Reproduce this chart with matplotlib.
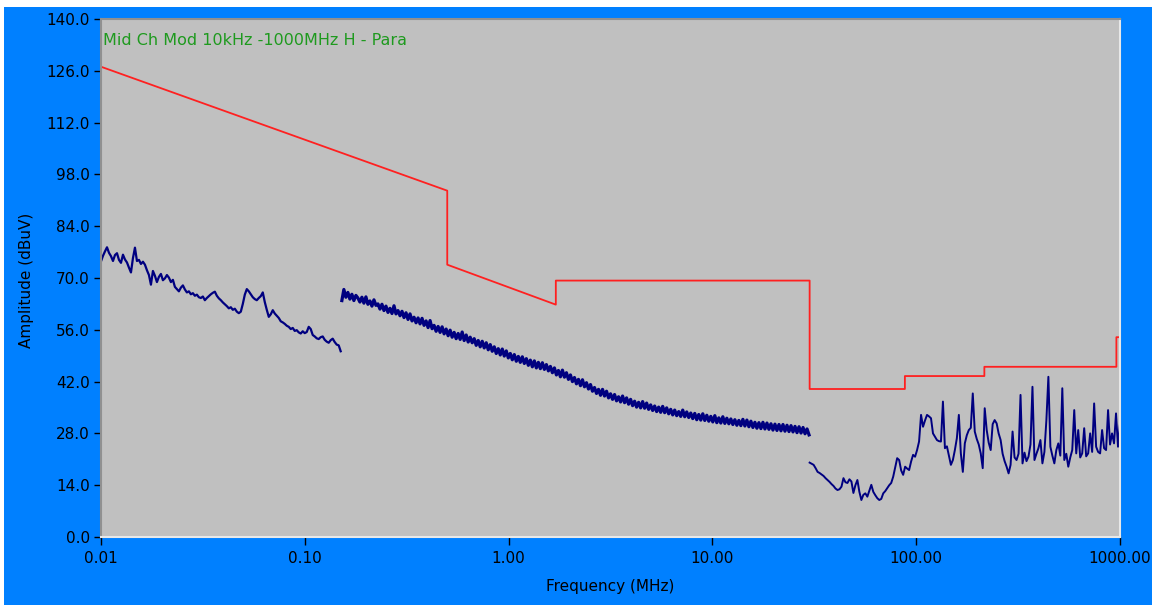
import numpy as np
import matplotlib
matplotlib.use("Agg")
import matplotlib.pyplot as plt
from matplotlib.patches import Rectangle

# limit line (MHz, dBuV)
limit_freq = [0.01, 0.5, 0.5, 1.705, 1.705, 30, 30, 88, 88, 216, 216, 960, 960, 1000]
limit_amp = [127.1, 93.6, 73.6, 62.8, 69.3, 69.3, 40.0, 40.0, 43.5, 43.5, 46.0, 46.0, 54.0, 54.0]

# sweep 1: 10 kHz - 150 kHz
seg1_amp = [
    74.5, 76.0, 77.2, 78.3, 76.8, 75.9, 74.6, 76.2, 76.7, 74.9,
    74.1, 76.3, 75.0, 74.2, 72.8, 71.5, 75.4, 78.2, 74.6, 74.9,
    73.8, 74.4, 73.6, 72.1, 70.8, 68.2, 71.9, 70.6, 68.9, 70.3,
    71.1, 69.4, 69.9, 70.8, 70.1, 68.9, 69.5, 67.6, 67.0, 66.4,
    67.4, 68.0, 66.9, 66.1, 66.4, 65.6, 65.9, 65.2, 65.5, 64.8,
    64.6, 65.0, 64.0, 64.6, 65.1, 65.6, 66.0, 66.3, 65.2, 64.5,
    64.0, 63.4, 62.9, 62.4, 61.8, 62.1, 61.4, 61.7, 60.9, 60.5,
    60.9, 63.0, 65.5, 67.0, 66.4, 65.6, 64.8, 64.3, 64.0, 64.6,
    65.1, 66.1, 63.5, 61.4, 59.5, 60.2, 61.3, 60.4, 59.8, 59.2,
    58.3, 58.0, 57.6, 57.1, 56.8, 56.2, 56.5, 55.7, 55.9, 55.3,
    55.0, 55.6, 55.1, 55.4, 56.8, 56.2, 54.6, 54.2, 53.7, 53.5,
    54.0, 54.2, 53.3, 52.8, 52.5, 53.2, 53.6, 52.7, 52.0, 51.8,
    50.2,
]

# sweep 2: 150 kHz - 30 MHz
seg2_amp = [
    63.9, 66.9, 64.8, 66.1, 64.3, 65.6, 63.9, 65.3, 64.6, 63.5,
    64.8, 63.2, 64.9, 62.9, 63.8, 62.4, 64.1, 62.6, 63.0, 61.6,
    62.9, 61.2, 62.4, 60.7, 61.8, 60.4, 62.5, 60.3, 61.2, 59.8,
    61.0, 59.3, 60.6, 58.8, 60.3, 58.4, 59.4, 57.9, 59.2, 57.6,
    59.1, 57.2, 58.4, 56.6, 58.5, 56.3, 57.2, 55.6, 56.9, 55.3,
    56.8, 54.9, 56.2, 54.4, 55.9, 54.0, 55.3, 53.6, 55.0, 53.4,
    55.4, 53.1, 54.6, 52.7, 54.0, 52.5, 53.6, 51.8, 53.1, 51.4,
    52.9, 51.1, 52.5, 50.6, 52.0, 50.2, 51.4, 49.6, 50.9, 49.2,
    50.8, 48.9, 50.3, 48.4, 49.6, 47.9, 49.3, 47.5, 48.8, 47.2,
    48.7, 46.9, 48.2, 46.4, 47.8, 46.0, 47.6, 45.7, 47.2, 45.5,
    47.1, 45.3, 46.6, 44.9, 46.1, 44.4, 45.7, 43.8, 45.0, 43.3,
    45.1, 43.2, 44.4, 42.6, 43.8, 42.0, 43.1, 41.4, 42.6, 40.9,
    42.5, 40.6, 41.7, 40.0, 41.2, 39.4, 40.4, 38.8, 39.9, 38.3,
    39.9, 38.1, 39.4, 37.6, 38.7, 37.2, 38.5, 36.8, 37.9, 36.5,
    38.1, 36.3, 37.6, 35.9, 37.2, 35.5, 36.7, 35.1, 36.4, 34.9,
    36.6, 34.8, 36.2, 34.5, 35.7, 34.2, 35.4, 33.9, 35.1, 33.7,
    35.3, 33.6, 34.9, 33.3, 34.5, 33.0, 34.3, 32.8, 33.9, 32.6,
    34.3, 32.5, 33.8, 32.3, 33.5, 32.0, 33.4, 31.7, 33.1, 31.6,
    33.3, 31.5, 32.9, 31.3, 32.6, 31.1, 32.8, 30.9, 32.2, 30.8,
    32.5, 30.7, 32.1, 30.6, 31.9, 30.4, 31.7, 30.2, 31.5, 30.1,
    31.8, 30.0, 31.6, 29.8, 31.3, 29.6, 31.0, 29.4, 30.9, 29.3,
    31.0, 29.2, 30.8, 29.1, 30.6, 28.9, 30.5, 28.8, 30.4, 28.7,
    30.4, 28.6, 30.2, 28.5, 30.1, 28.4, 29.9, 28.2, 29.8, 28.1,
    29.6, 27.9, 29.2, 27.6,
]

# sweep 3: 30 MHz - 1000 MHz
seg3_amp = [
    20.1, 19.8, 19.5, 18.6, 17.6, 17.3, 16.9, 16.5, 15.9, 15.4,
    14.9, 14.3, 13.8, 13.1, 12.7, 12.9, 13.6, 15.9, 14.8, 14.6,
    15.6, 15.0, 11.9, 14.0, 15.4, 12.2, 10.0, 11.4, 11.8, 10.9,
    12.5, 14.1, 12.2, 11.3, 10.5, 10.0, 10.3, 11.8, 12.4, 13.2,
    14.0, 14.6, 16.3, 18.8, 21.3, 20.8, 18.0, 16.8, 19.0, 18.5,
    18.1, 20.4, 22.2, 21.7, 23.5, 25.8, 33.0, 29.8, 31.5, 33.0,
    32.6, 32.1, 28.0, 27.1, 26.2, 25.9, 25.8, 36.6, 24.0, 24.5,
    22.0, 19.5, 20.8, 23.5, 26.7, 33.0, 22.6, 17.6, 25.3, 27.5,
    28.9, 29.5, 38.8, 28.5, 26.5, 25.0, 22.6, 18.6, 34.8, 28.9,
    25.5, 23.5, 30.5, 31.6, 30.7, 28.0, 26.2, 22.5, 20.5, 19.0,
    17.2, 19.5, 28.5, 21.5, 20.8, 22.5, 38.4, 19.9, 22.8, 20.5,
    21.7, 25.0, 40.6, 20.8, 22.5, 24.0, 26.2, 19.9, 23.0, 31.6,
    43.3, 24.4, 22.0, 19.9, 23.5, 25.3, 22.0, 40.2, 20.8, 22.5,
    19.0, 21.5, 23.5, 34.3, 22.6, 28.9, 21.5, 22.6, 29.4, 21.8,
    22.6, 28.0, 23.0, 36.1, 24.4, 23.0, 22.6, 28.9, 24.0, 23.5,
    34.3, 25.0, 28.0, 25.3, 33.4, 24.4, 30.7,
]

xticks = [0.01, 0.1, 1, 10, 100, 1000]
xtick_labels = ["0.01", "0.10", "1.00", "10.00", "100.00", "1000.00"]
yticks = [0, 14, 28, 42, 56, 70, 84, 98, 112, 126, 140]

plt.rcParams['font.family'] = ['DejaVu Sans']

W, H = 1157, 607
fig = plt.figure(figsize=(W / 100, H / 100), dpi=100, facecolor='white')
# blue panel behind everything
fig.patches.append(Rectangle((4 / W, 2 / H), 1148 / W, 598 / H, transform=fig.transFigure,
                             facecolor='#0080FF', edgecolor='none', zorder=-10))

ax = fig.add_axes([101 / W, (H - 537) / H, 1019 / W, 518 / H])
ax.set_zorder(5)
ax.set_facecolor('#C0C0C0')

f1 = np.geomspace(0.01, 0.15, len(seg1_amp))
f2 = np.geomspace(0.152, 29.8, len(seg2_amp))
f3 = np.geomspace(30, 1000, len(seg3_amp))

ax.plot(f1, seg1_amp, color='#000080', lw=1.6)
ax.plot(f2, seg2_amp, color='#000080', lw=2.3)
ax.plot(list(f3) + [1000], seg3_amp + [0.0], color='#000080', lw=1.4)
ax.plot(limit_freq, limit_amp, color='#FF2020', lw=1.3)

ax.set_xscale('log')
ax.set_xlim(0.01, 1000)
ax.set_ylim(0, 140)
ax.set_xticks(xticks)
ax.set_xticklabels(xtick_labels)
ax.minorticks_off()
ax.set_yticks(yticks)
ax.set_yticklabels(["%.1f" % v for v in yticks])
ax.tick_params(direction='out', width=1, colors='black', labelsize=11)
ax.tick_params(axis='x', length=6, pad=4)
ax.tick_params(axis='y', length=5, pad=3)

for side in ['left', 'top']:
    ax.spines[side].set_color('#909090')
for side in ['right', 'bottom']:
    ax.spines[side].set_color('#E8E8E8')
for s in ax.spines.values():
    s.set_linewidth(1.5)

ax.text(0.002, 0.958, "Mid Ch Mod 10kHz -1000MHz H - Para", transform=ax.transAxes,
        color='#1E9A1E', fontsize=11.5, ha='left', va='center')

ax.set_xlabel("Frequency (MHz)", fontsize=11)
ax.set_ylabel("Amplitude (dBuV)", fontsize=11)
ax.xaxis.set_label_coords(0.5, -0.082)
ax.yaxis.set_label_coords(-0.0655, 0.495)

fig.savefig("out.png", dpi=100, facecolor=fig.get_facecolor())
